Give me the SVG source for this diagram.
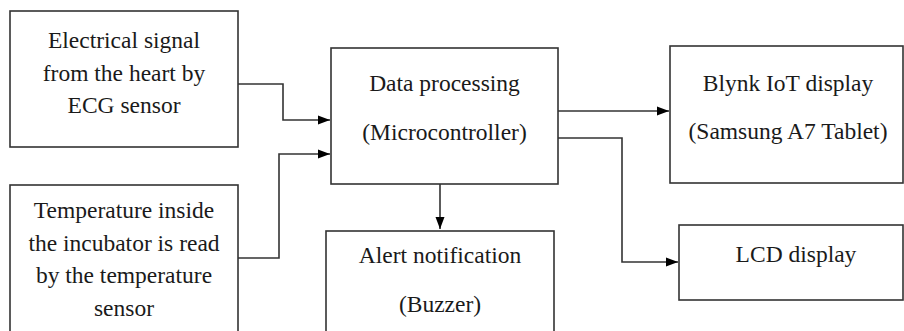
<svg xmlns="http://www.w3.org/2000/svg" width="904" height="331" viewBox="0 0 904 331" font-family="Liberation Serif, DejaVu Serif, serif">
<style>
.box{fill:#fff;stroke:#333;stroke-width:1.6}
.t{font-size:23.5px;fill:#1a1a1a;text-anchor:middle}
.c{fill:none;stroke:#333;stroke-width:1.6}
</style>
<defs>
<marker id="ah" viewBox="0 0 12 10" refX="12" refY="5" markerWidth="12" markerHeight="10" markerUnits="userSpaceOnUse" orient="auto">
<path d="M0,0.5 L12,5 L0,9.5 Z" fill="#000"/>
</marker>
</defs>
<rect width="904" height="331" fill="#fff"/>
<g id="ecg">
<rect class="box" x="10" y="11" width="228" height="136"/>
<text class="t" x="124" y="48">Electrical signal</text>
<text class="t" x="124" y="81">from the heart by</text>
<text class="t" x="124" y="113">ECG sensor</text>
</g>
<g id="temp">
<rect class="box" x="10" y="185" width="228" height="160"/>
<text class="t" x="124" y="218">Temperature inside</text>
<text class="t" x="124" y="251">the incubator is read</text>
<text class="t" x="124" y="283">by the temperature</text>
<text class="t" x="124" y="316">sensor</text>
</g>
<g id="mcu">
<rect class="box" x="331" y="48" width="227" height="136"/>
<text class="t" x="444.5" y="91">Data processing</text>
<text class="t" x="444.5" y="140">(Microcontroller)</text>
</g>
<g id="buzzer">
<rect class="box" x="326" y="231" width="228" height="120"/>
<text class="t" x="440" y="263">Alert notification</text>
<text class="t" x="440" y="312">(Buzzer)</text>
</g>
<g id="blynk">
<rect class="box" x="670" y="46" width="233" height="137"/>
<text class="t" x="788" y="91">Blynk IoT display</text>
<text class="t" x="788" y="139">(Samsung A7 Tablet)</text>
</g>
<g id="lcd">
<rect class="box" x="679" y="225" width="224" height="75"/>
<text class="t" x="796" y="262">LCD display</text>
</g>
<g id="connectors">
<path class="c" d="M238,84 H283 V120 H330" marker-end="url(#ah)"/>
<path class="c" d="M238,258 H279 V154 H330" marker-end="url(#ah)"/>
<path class="c" d="M440,184 V229" marker-end="url(#ah)"/>
<path class="c" d="M558,111 H669" marker-end="url(#ah)"/>
<path class="c" d="M558,138 H622 V262 H678" marker-end="url(#ah)"/>
</g>
</svg>
